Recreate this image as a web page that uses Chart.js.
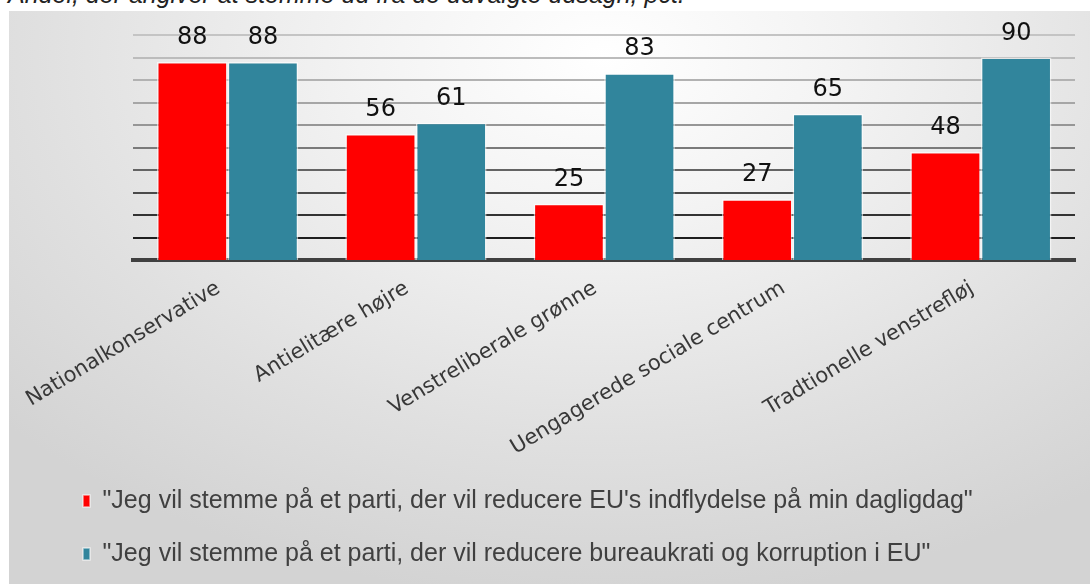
<!DOCTYPE html>
<html>
<head>
<meta charset="utf-8">
<script src="https://cdn.jsdelivr.net/npm/chart.js@4.4.1/dist/chart.umd.min.js"></script>
<style>
  html, body { margin: 0; padding: 0; background: #ffffff; overflow: hidden; }
  body { width: 1090px; height: 584px; position: relative; }
  #title {
    position: absolute; left: 8px; top: -18.5px; white-space: nowrap;
    font: italic 25px "Liberation Sans", Arial, sans-serif; line-height: 25px; color: #222;
  }
  #panel {
    position: absolute; left: 9px; top: 11px; width: 1081px; height: 573px;
    background: radial-gradient(ellipse 75% 95% at 55% 8%, #ffffff 0%, #f3f3f3 30%, #e0e0e0 70%, #d3d3d3 100%);
  }
  #panel canvas { position: absolute; left: 0; top: 0; }
</style>
</head>
<body>
<div id="title">Andel, der angiver at stemme ud fra de udvalgte udsagn, pct.</div>
<div id="panel"><canvas id="chart" width="1081" height="573"></canvas></div>
<script>
// Data
const categories = [
    'Nationalkonservative',
    'Antielitære højre',
    'Venstreliberale grønne',
    'Uengagerede sociale centrum',
    'Tradtionelle venstrefløj'
];
const seriesNames = [
    '"Jeg vil stemme på et parti, der vil reducere EU\'s indflydelse på min dagligdag"',
    '"Jeg vil stemme på et parti, der vil reducere bureaukrati og korruption i EU"'
];
const seriesInfluence = [88, 56, 25, 27, 48];
const seriesBureaucracy = [88, 61, 83, 65, 90];
const seriesColors = ['#ff0000', '#31859c'];

// Grid line shades, light at the top and dark near the axis
function gridShade(value) {
    const shades = {10: '#1e1e1e', 20: '#333333', 30: '#4a4a4a', 40: '#646464', 50: '#7a7a7a',
                    60: '#969696', 70: '#a6a6a6', 80: '#b2b2b2', 90: '#bcbcbc', 100: '#c4c4c4'};
    return shades[value] || '#404040';
}

// Value labels above each bar
const valueLabels = {
    id: 'valueLabels',
    afterDatasetsDraw(chart) {
        const ctx = chart.ctx;
        ctx.save();
        ctx.font = '24px "DejaVu Sans", sans-serif';
        ctx.fillStyle = '#111111';
        ctx.textAlign = 'center';
        ctx.textBaseline = 'middle';
        chart.data.datasets.forEach((ds, di) => {
            const meta = chart.getDatasetMeta(di);
            meta.data.forEach((bar, i) => {
                ctx.fillText(String(ds.data[i]), bar.x, bar.y - 24);
            });
        });
        ctx.restore();
    }
};

const chart = new Chart(document.getElementById('chart'), {
    type: 'bar',
    data: {
        labels: categories,
        datasets: [
            {
                label: seriesNames[0],
                data: seriesInfluence,
                backgroundColor: seriesColors[0],
                borderColor: 'rgba(255,255,255,0.6)',
                borderWidth: 1.5
            },
            {
                label: seriesNames[1],
                data: seriesBureaucracy,
                backgroundColor: seriesColors[1],
                borderColor: 'rgba(255,255,255,0.6)',
                borderWidth: 1.5
            }
        ]
    },
    options: {
        responsive: false,
        animation: false,
        devicePixelRatio: 1,
        layout: { padding: { left: 46, right: 15, top: 24, bottom: 7.5 } },
        datasets: { bar: { categoryPercentage: 0.75, barPercentage: 1.0 } },
        scales: {
            x: {
                grid: { display: false, drawTicks: false },
                border: { display: true, color: '#404040', width: 4 },
                ticks: {
                    maxRotation: 31,
                    minRotation: 31,
                    padding: 16,
                    labelOffset: -9,
                    color: '#383838',
                    font: { family: '"DejaVu Sans", sans-serif', size: 21 }
                },
                afterFit(scale) { scale.height = 200.5; }
            },
            y: {
                min: 0,
                max: 100,
                ticks: { display: false, stepSize: 10 },
                border: { display: false },
                grid: {
                    drawTicks: false,
                    lineWidth: (c) => (c.tick && c.tick.value === 0 ? 0 : 2),
                    color: (c) => gridShade(c.tick ? c.tick.value : 0)
                },
                afterFit(scale) { scale.width = 75; }
            }
        },
        plugins: {
            legend: {
                position: 'bottom',
                align: 'start',
                labels: {
                    boxWidth: 7,
                    boxHeight: 12,
                    padding: 28,
                    color: '#404040',
                    font: { family: '"Liberation Sans", Arial, sans-serif', size: 25 }
                }
            },
            tooltip: { enabled: false }
        }
    },
    plugins: [valueLabels]
});
</script>
</body>
</html>
